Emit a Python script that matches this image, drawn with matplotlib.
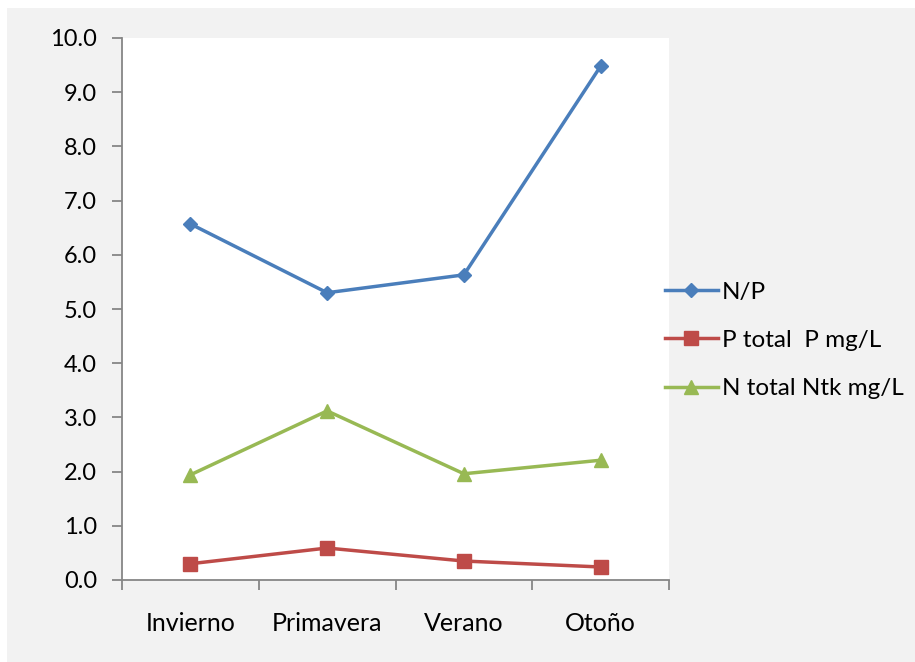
import matplotlib.pyplot as plt
from matplotlib.patches import Rectangle
from matplotlib.lines import Line2D

categories = ["Invierno", "Primavera", "Verano", "Otoño"]
np_ratio = [6.57, 5.30, 5.63, 9.48]
p_total = [0.30, 0.59, 0.35, 0.24]
n_total = [1.94, 3.12, 1.96, 2.21]
y_ticks = [0.0, 1.0, 2.0, 3.0, 4.0, 5.0, 6.0, 7.0, 8.0, 9.0, 10.0]

series_names = ["N/P", "P total  P mg/L", "N total Ntk mg/L"]
colors = ["#4a7ebb", "#be4b48", "#98b954"]
markers = ["D", "s", "^"]
msizes = [7, 10, 10]

W, H = 915, 662
fig = plt.figure(figsize=(W / 100, H / 100), dpi=100)
fig.patch.set_facecolor("white")
fig.patches.append(Rectangle((7 / W, 0), 1 - 7 / W, 1 - 8 / H, transform=fig.transFigure,
                             facecolor="#f2f2f2", edgecolor="none", zorder=-5))

ax = fig.add_axes([122 / W, 1 - 580 / H, (669 - 122) / W, (580 - 38) / H])
ax.set_facecolor("white")

x = list(range(len(categories)))
for vals, name, c, m, ms in zip([np_ratio, p_total, n_total], series_names, colors, markers, msizes):
    ax.plot(x, vals, color=c, lw=2.5, marker=m, markersize=ms, label=name,
            markeredgecolor=c, clip_on=False, zorder=3)

ax.set_xlim(-0.5, len(categories) - 0.5)
ax.set_ylim(0, 10)
ax.set_yticks(y_ticks)
ax.set_yticklabels([f"{v:.1f}" for v in y_ticks])
ax.set_xticks([i - 0.5 for i in range(len(categories) + 1)])
ax.set_xticklabels([])
ax.set_xticks(x, minor=True)
ax.set_xticklabels(categories, minor=True)

font = "Lato"
for lab in ax.get_yticklabels():
    lab.set_fontfamily(font)
    lab.set_fontsize(17)
    lab.set_color("black")
for lab in ax.get_xticklabels(minor=True):
    lab.set_fontfamily(font)
    lab.set_fontsize(18)
    lab.set_color("black")

ax.tick_params(axis="y", direction="out", length=7, width=1.3, color="#868686", pad=11)
ax.tick_params(axis="x", which="major", direction="out", length=7, width=1.3, color="#868686")
ax.tick_params(axis="x", which="minor", length=0, pad=23)

for side in ["top", "right"]:
    ax.spines[side].set_visible(False)
for side in ["left", "bottom"]:
    ax.spines[side].set_color("#868686")
    ax.spines[side].set_linewidth(1.3)

handles = [Line2D([0], [0], color=c, lw=2.5, marker=m, markersize=ms, markeredgecolor=c)
           for c, m, ms in zip(colors, markers, msizes)]
leg = fig.legend(handles, series_names, loc="upper left",
                 bbox_to_anchor=(655 / W, 1 - 272 / H), frameon=False,
                 prop={"family": font, "size": 17.5}, handlelength=2.2,
                 handletextpad=0.15, labelspacing=1.12, borderaxespad=0)

fig.savefig("out.png", dpi=100, facecolor=fig.get_facecolor())
